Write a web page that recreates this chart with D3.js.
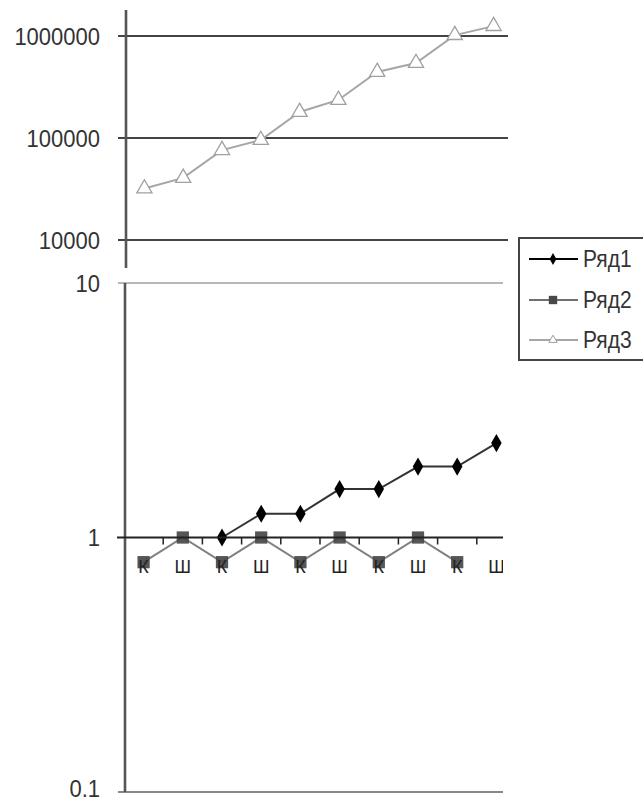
<!DOCTYPE html>
<html>
<head>
<meta charset="utf-8">
<script src="https://cdn.jsdelivr.net/npm/d3@7"></script>
<style>
  body { margin: 0; background: #fff; }
  text { font-family: "Liberation Sans", Arial, sans-serif; }
</style>
</head>
<body>
<div id="chart"></div>
<script>
// categories along the x axis
const categories = ["К", "Ш", "К", "Ш", "К", "Ш", "К", "Ш", "К", "Ш"];
// series values (null = no point)
const ryad1 = [null, null, 1, 1.24, 1.24, 1.55, 1.55, 1.9, 1.9, 2.35];
const ryad2 = [0.8, 1, 0.8, 1, 0.8, 1, 0.8, 1, 0.8, null];
const ryad3 = [32000, 40600, 76000, 95500, 180000, 236000, 444000, 543000, 1020000, 1250000];
const seriesNames = ["Ряд1", "Ряд2", "Ряд3"];
const topTicks = [10000, 100000, 1000000];
const topTickLabels = ["10000", "100000", "1000000"];
const lowTicks = [0.1, 1, 10];
const lowTickLabels = ["0.1", "1", "10"];

const W = 643, H = 802;
const svg = d3.select("#chart").append("svg")
    .attr("width", W).attr("height", H);

const idx = d3.range(categories.length);

// clip regions (the original picture is cut on the right)
const defs = svg.append("defs");
defs.append("clipPath").attr("id", "clipTop")
    .append("rect").attr("x", 0).attr("y", 0).attr("width", 508).attr("height", 275);
defs.append("clipPath").attr("id", "clipLow")
    .append("rect").attr("x", 0).attr("y", 275).attr("width", 503).attr("height", H);

function label(g, x, y, txt, size, sy, anchor) {
    g.append("text")
        .attr("transform", `translate(${x},${y}) scale(1,${sy})`)
        .attr("text-anchor", anchor || "end")
        .attr("dy", "0.35em")
        .attr("font-size", size)
        .attr("fill", "#333")
        .text(txt);
}

// ---------- top panel (Ряд3) ----------
const xTop = d3.scaleBand().domain(idx).range([125, 513]);
const yTop = d3.scaleLog().domain([1e4, 1e6]).range([240, 36]);
const topG = svg.append("g");
const topPlot = topG.append("g").attr("clip-path", "url(#clipTop)");

topPlot.selectAll("line.grid").data(topTicks).enter().append("line")
    .attr("x1", 118).attr("x2", 513)
    .attr("y1", d => yTop(d)).attr("y2", d => yTop(d))
    .attr("stroke", "#444").attr("stroke-width", 2.2);

topG.append("line")
    .attr("x1", 126).attr("x2", 126)
    .attr("y1", yTop(yTop.invert(10))).attr("y2", yTop(yTop.invert(268)))
    .attr("stroke", "#555").attr("stroke-width", 2.6);

topTicks.forEach((t, i) => label(topG, 100, yTop(t), topTickLabels[i], 22, 1.12));

const line3 = d3.line()
    .x((d, i) => xTop(i) + xTop.bandwidth() / 2)
    .y(d => yTop(d));
topPlot.append("path").datum(ryad3)
    .attr("d", line3).attr("fill", "none")
    .attr("stroke", "#a6a6a6").attr("stroke-width", 2);

const tri = d3.symbol().type(d3.symbolTriangle).size(100);
topPlot.selectAll("path.tri").data(ryad3).enter().append("path")
    .attr("d", tri)
    .attr("transform", (d, i) => `translate(${xTop(i) + xTop.bandwidth() / 2},${yTop(d)})`)
    .attr("fill", "#fff").attr("stroke", "#a0a0a0").attr("stroke-width", 1.3);

// ---------- lower panel (Ряд1, Ряд2) ----------
const xLow = d3.scaleBand().domain(idx).range([124, 516]);
const yLow = d3.scaleLog().domain([0.1, 10]).range([792, 283]);
const lowG = svg.append("g");
const lowPlot = lowG.append("g").attr("clip-path", "url(#clipLow)");

// gridline at 10 and bottom line at 0.1
lowPlot.append("line")
    .attr("x1", 118).attr("x2", 516)
    .attr("y1", yLow(10)).attr("y2", yLow(10))
    .attr("stroke", "#a0a0a0").attr("stroke-width", 1.5);
lowPlot.append("line")
    .attr("x1", 118).attr("x2", 516)
    .attr("y1", yLow(0.1)).attr("y2", yLow(0.1))
    .attr("stroke", "#888").attr("stroke-width", 2);

lowG.append("line")
    .attr("x1", 125).attr("x2", 125)
    .attr("y1", yLow(10)).attr("y2", yLow(0.1))
    .attr("stroke", "#555").attr("stroke-width", 2.6);

// the 0.1 label sits at the very bottom edge; nudge it up so it stays whole
lowTicks.forEach((t, i) => label(lowG, 100, yLow(t) - (t === 0.1 ? 4 : 0), lowTickLabels[i], 22, 1.12));

// x axis crossing at 1
const xAxisG = lowG.append("g").attr("clip-path", "url(#clipLow)");
xAxisG.append("line")
    .attr("x1", 117).attr("x2", 516)
    .attr("y1", yLow(1)).attr("y2", yLow(1))
    .attr("stroke", "#222").attr("stroke-width", 2);
xAxisG.selectAll("line.tick").data(idx.slice(1)).enter().append("line")
    .attr("x1", d => xLow(d)).attr("x2", d => xLow(d))
    .attr("y1", yLow(1)).attr("y2", yLow(1) + 7)
    .attr("stroke", "#222").attr("stroke-width", 1.5);

const cx = i => xLow(i) + xLow.bandwidth() / 2;

const line2 = d3.line().defined(d => d != null).x((d, i) => cx(i)).y(d => yLow(d));
lowPlot.append("path").datum(ryad2)
    .attr("d", line2).attr("fill", "none")
    .attr("stroke", "#808080").attr("stroke-width", 2);

const line1 = d3.line().defined(d => d != null).x((d, i) => cx(i)).y(d => yLow(d));
lowPlot.append("path").datum(ryad1)
    .attr("d", line1).attr("fill", "none")
    .attr("stroke", "#333").attr("stroke-width", 2);

// category labels (drawn under the markers, as in the original)
const catG = lowG.append("g").attr("clip-path", "url(#clipLow)");
categories.forEach((c, i) => {
    catG.append("text")
        .attr("x", cx(i)).attr("y", 567)
        .attr("dy", "0.35em")
        .attr("text-anchor", "middle")
        .attr("font-size", 18)
        .attr("fill", "#222")
        .text(c);
});

const sq = d3.symbol().type(d3.symbolSquare).size(150);
lowPlot.selectAll("path.sq").data(ryad2.map((v, i) => [v, i]).filter(d => d[0] != null))
    .enter().append("path")
    .attr("d", sq)
    .attr("transform", d => `translate(${cx(d[1])},${yLow(d[0])})`)
    .attr("fill", "#484848").attr("fill-opacity", 0.92);

const dia = d3.symbol().type(d3.symbolDiamond).size(95);
lowPlot.selectAll("path.dia").data(ryad1.map((v, i) => [v, i]).filter(d => d[0] != null))
    .enter().append("path")
    .attr("d", dia)
    .attr("transform", d => `translate(${cx(d[1])},${yLow(d[0])})`)
    .attr("fill", "#000");

// ---------- legend ----------
const leg = svg.append("g");
leg.append("rect")
    .attr("x", 519).attr("y", 238).attr("width", 140).attr("height", 122)
    .attr("fill", "#fff").attr("stroke", "#444").attr("stroke-width", 2);
const legY = [259, 300, 340];
const legColors = ["#000", "#707070", "#a6a6a6"];
const legSym = [
    d3.symbol().type(d3.symbolDiamond).size(40),
    d3.symbol().type(d3.symbolSquare).size(70),
    d3.symbol().type(d3.symbolTriangle).size(30)
];
seriesNames.forEach((s, i) => {
    leg.append("line")
        .attr("x1", 529).attr("x2", 578)
        .attr("y1", legY[i]).attr("y2", legY[i])
        .attr("stroke", legColors[i]).attr("stroke-width", 2);
    leg.append("path")
        .attr("d", legSym[i])
        .attr("transform", `translate(553,${legY[i]})`)
        .attr("fill", i === 2 ? "#fff" : (i === 1 ? "#484848" : "#000"))
        .attr("stroke", i === 2 ? "#a0a0a0" : "none");
    label(leg, 583, legY[i], s, 21, 1.12, "start");
});
</script>
</body>
</html>
